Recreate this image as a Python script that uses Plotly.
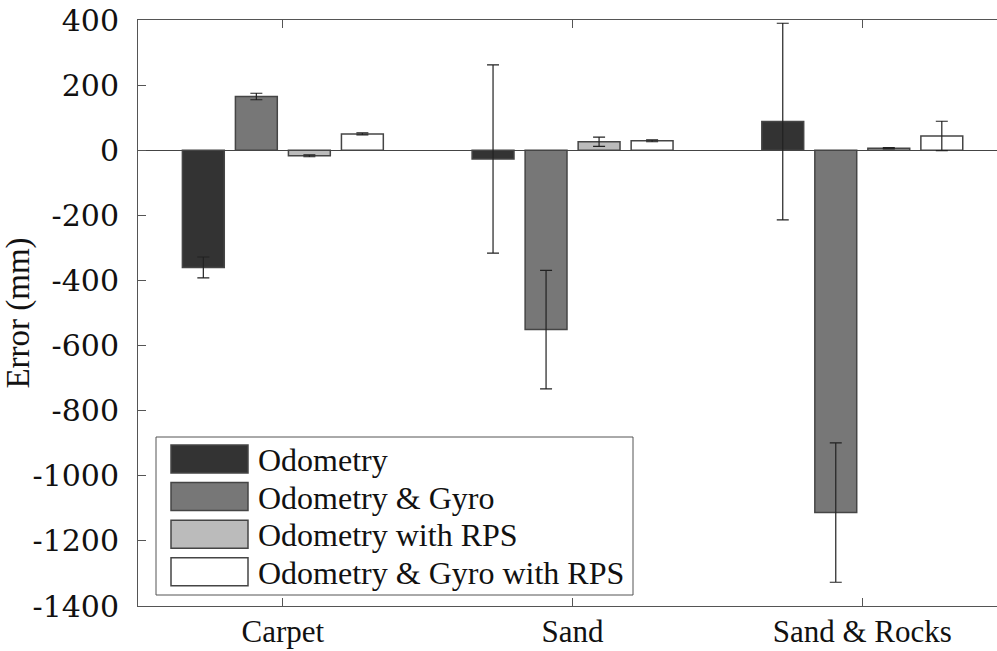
import plotly.graph_objects as go

# Surfaces tested and the four localisation methods
surfaces = ["Carpet", "Sand", "Sand & Rocks"]
methods = ["Odometry", "Odometry & Gyro", "Odometry with RPS", "Odometry & Gyro with RPS"]

# Mean final position error (mm) and its standard deviation per surface
mean_odo = [-360, -27, 88]
std_odo = [32, 289, 302]
mean_gyro = [165, -551, -1113]
std_gyro = [10, 182, 214]
mean_rps = [-17, 26, 6]
std_rps = [3, 14, 2]
mean_gyro_rps = [50, 29, 44]
std_gyro_rps = [3, 3, 45]

y_ticks = [400, 200, 0, -200, -400, -600, -800, -1000, -1200, -1400]

means = [mean_odo, mean_gyro, mean_rps, mean_gyro_rps]
stds = [std_odo, std_gyro, std_rps, std_gyro_rps]
fills = ["#333333", "#777777", "#bbbbbb", "#ffffff"]

TXT = "Liberation Serif, Times New Roman, serif"
NUM = "DejaVu Serif, serif"
EDGE = "#454545"

fig = go.Figure()
for name, m, s, c in zip(methods, means, stds, fills):
    fig.add_trace(go.Bar(
        x=surfaces, y=m, name=name,
        marker=dict(color=c, line=dict(color=EDGE, width=1.5)),
        error_y=dict(type="data", array=s, color="#222222", thickness=1.2, width=6),
        showlegend=False,
    ))

# Plot area in pixels, used to place the boxed legend in paper coordinates
L, R, T, B = 138, 997, 20, 606
def px_x(px):
    return (px - L) / (R - L)
def px_y(py):
    return (B - py) / (B - T)

shapes = [dict(type="rect", xref="paper", yref="paper",
               x0=px_x(156), x1=px_x(633), y0=px_y(595), y1=px_y(437),
               line=dict(color="#555555", width=1), fillcolor="white", layer="above")]
annotations = []
for i, (name, c) in enumerate(zip(methods, fills)):
    cy = 459 + 37.6 * i
    shapes.append(dict(type="rect", xref="paper", yref="paper",
                       x0=px_x(171), x1=px_x(248), y0=px_y(cy + 14), y1=px_y(cy - 14),
                       line=dict(color=EDGE, width=1.5), fillcolor=c, layer="above"))
    annotations.append(dict(xref="paper", yref="paper", x=px_x(256), y=px_y(cy + 1),
                            text=name, showarrow=False, xanchor="left", yanchor="middle",
                            font=dict(family=TXT, size=32, color="#111111")))

fig.update_layout(
    width=997, height=651, autosize=False,
    margin=dict(l=L, r=0, t=T, b=651 - B),
    barmode="group", bargap=0.268, bargroupgap=0.21,
    plot_bgcolor="white", paper_bgcolor="white",
    shapes=shapes, annotations=annotations,
)
fig.update_xaxes(
    range=[-0.5, 2.465], showgrid=False, zeroline=False, automargin=False,
    showline=True, linecolor="#555555", linewidth=1, mirror="ticks",
    ticks="inside", ticklen=8, tickcolor="#555555",
    tickfont=dict(family=TXT, size=31, color="#111111"), ticklabelstandoff=-2,
)
fig.update_yaxes(
    range=[-1400, 400], tickvals=y_ticks, ticktext=[str(v) for v in y_ticks],
    showgrid=False, zeroline=True, zerolinecolor="#444444", zerolinewidth=1,
    showline=True, linecolor="#555555", linewidth=1, automargin=False,
    ticks="inside", ticklen=8, tickcolor="#555555",
    tickfont=dict(family=NUM, size=30, color="#111111"), ticklabelstandoff=12,
    title=dict(text="Error (mm)", font=dict(family=TXT, size=33, color="#111111"), standoff=6),
)

fig.write_html("out.html")
